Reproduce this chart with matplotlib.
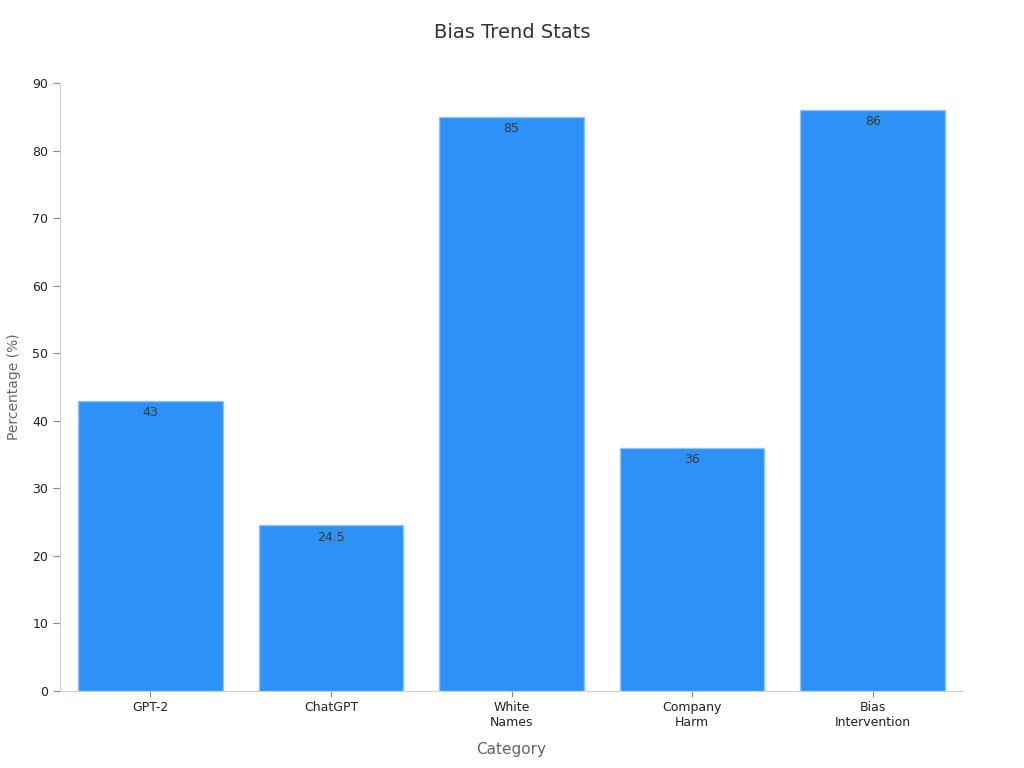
import matplotlib
matplotlib.use("Agg")
import matplotlib.pyplot as plt

categories = ["GPT-2", "ChatGPT", "White\nNames", "Company\nHarm", "Bias\nIntervention"]
values = [43, 24.5, 85, 36, 86]
value_labels = ["43", "24.5", "85", "36", "86"]
yticks = [0, 10, 20, 30, 40, 50, 60, 70, 80, 90]

plt.rcParams['font.family'] = ['DejaVu Sans']
fig = plt.figure(figsize=(10.24, 7.68), dpi=100)
ax = fig.add_axes([60/1024, 77/768, 903/1024, 608/768])

x = list(range(len(categories)))
bars = ax.bar(x, values, width=0.8, color="#2e91f7", edgecolor="#8cc6ff", linewidth=1)
for xi, v, lab in zip(x, values, value_labels):
    ax.text(xi, v - 0.8, lab, ha="center", va="top", fontsize=9, color="#3a3a3a")

ax.set_xlim(-0.5, 4.5)
ax.set_ylim(0, 90)
ax.set_yticks(yticks)
ax.set_xticks(x)
ax.set_xticklabels(categories, fontsize=9, color="#222222")
ax.tick_params(axis="y", labelsize=9, labelcolor="#222222", color="#888888", length=5)
ax.tick_params(axis="x", color="#888888", length=4)
for s in ["top", "right"]:
    ax.spines[s].set_visible(False)
for s in ["left", "bottom"]:
    ax.spines[s].set_color("#d0d0d0")
ax.set_xlabel("Category", fontsize=11, color="#666666", labelpad=9)
ax.set_ylabel("Percentage (%)", fontsize=10, color="#666666", labelpad=8)
fig.suptitle("Bias Trend Stats", fontsize=14, color="#333333", y=1 - 33/768, va="center")

fig.savefig("out.png", dpi=100)
